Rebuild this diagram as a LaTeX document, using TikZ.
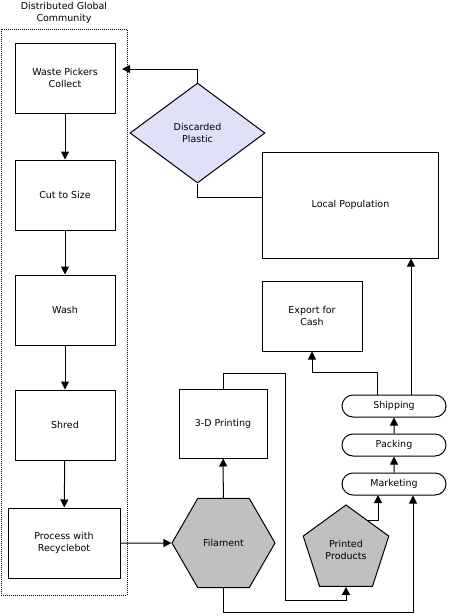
\documentclass[tikz,border=0pt]{standalone}
\usepackage{fontspec}
\setmainfont{DejaVu Sans}
\usetikzlibrary{shapes.geometric,shapes.misc,arrows.meta}
\begin{document}
\begin{tikzpicture}[x=1pt,y=-1pt,line width=1pt,
  font=\fontsize{9.5}{12.5}\selectfont,
  >={Triangle[length=8pt,width=8pt]},
  stepbox/.style={draw, align=center, minimum width=100, minimum height=70, inner sep=2},
  pill/.style={draw, rounded rectangle, minimum width=106, minimum height=22, inner sep=1}]
\useasboundingbox (0,0) rectangle (450,616);
% community frame
\node[draw, densely dotted, minimum width=126, minimum height=566, inner sep=0] (comm) at (64,312){};
\node[align=center] (title) at (64,13) {Distributed Global\\Community};
\node[stepbox] (wp) at (65,78) {Waste Pickers\\Collect};
\node[stepbox] (cut) at (65,195) {Cut to Size};
\node[stepbox] (wash) at (65,310) {Wash};
\node[stepbox] (shred) at (65,425) {Shred};
\node[stepbox, minimum width=112] (proc) at (64,543) {Process with\\Recyclebot};
\draw[->] (wp) -- (cut);
\draw[->] (cut) -- (wash);
\draw[->] (wash) -- (shred);
\draw[->] (shred) -- (proc);
% plastic and population
\node[draw, diamond, fill={rgb,255:red,224;green,224;blue,248}, align=center, minimum width=135, minimum height=100, inner sep=0] (dp) at (197.5,133) {Discarded\\Plastic};
\node[stepbox, minimum width=176, minimum height=106] (lp) at (350.5,205) {Local Population};
\node[stepbox] (ex) at (312,316) {Export for\\Cash};
\coordinate (wpin) at (122,69);
\coordinate (lpin) at (263,197);
\draw[->] (dp.north) |- (wpin);
\draw (dp.south) |- (lpin);
% filament and products
\node[draw, regular polygon, regular polygon sides=6, fill={rgb,255:red,192;green,192;blue,192}, minimum size=103, inner sep=0] (fil) at (223.5,543) {Filament};
\node[stepbox, minimum width=88, minimum height=69] (td) at (223,423.5) {3-D Printing};
\node[draw, regular polygon, regular polygon sides=5, fill={rgb,255:red,192;green,192;blue,192}, align=center, minimum size=90, inner sep=0] (pp) at (346,550) {Printed\\Products};
\node[pill] (mkt) at (394,484) {Marketing};
\node[pill] (pack) at (394,445) {Packing};
\node[pill] (ship) at (394,406) {Shipping};
\draw[->] (proc) -- (fil);
\draw[->] (fil) -- (td);
\coordinate (up1) at (285,373);
\coordinate (dn1) at (285,600);
\draw[->] (td.north) |- (up1) -- (dn1) -| (pp.south);
\coordinate (low) at (413,612);
\draw[->] (fil.south) |- (low) -- (mkt.south -| low);
\coordinate (mktin) at (378,495);
\draw[->] (pp.side 5) -| (mktin);
\draw[->] (mkt) -- (pack);
\draw[->] (pack) -- (ship);
\coordinate (shipr) at (411,395);
\coordinate (shipl) at (377,395);
\draw[->] (shipr) -- (lp.south -| shipr);
\draw[->] (shipl) -- ++(0,-23) -| (ex.south);
\end{tikzpicture}
\end{document}
